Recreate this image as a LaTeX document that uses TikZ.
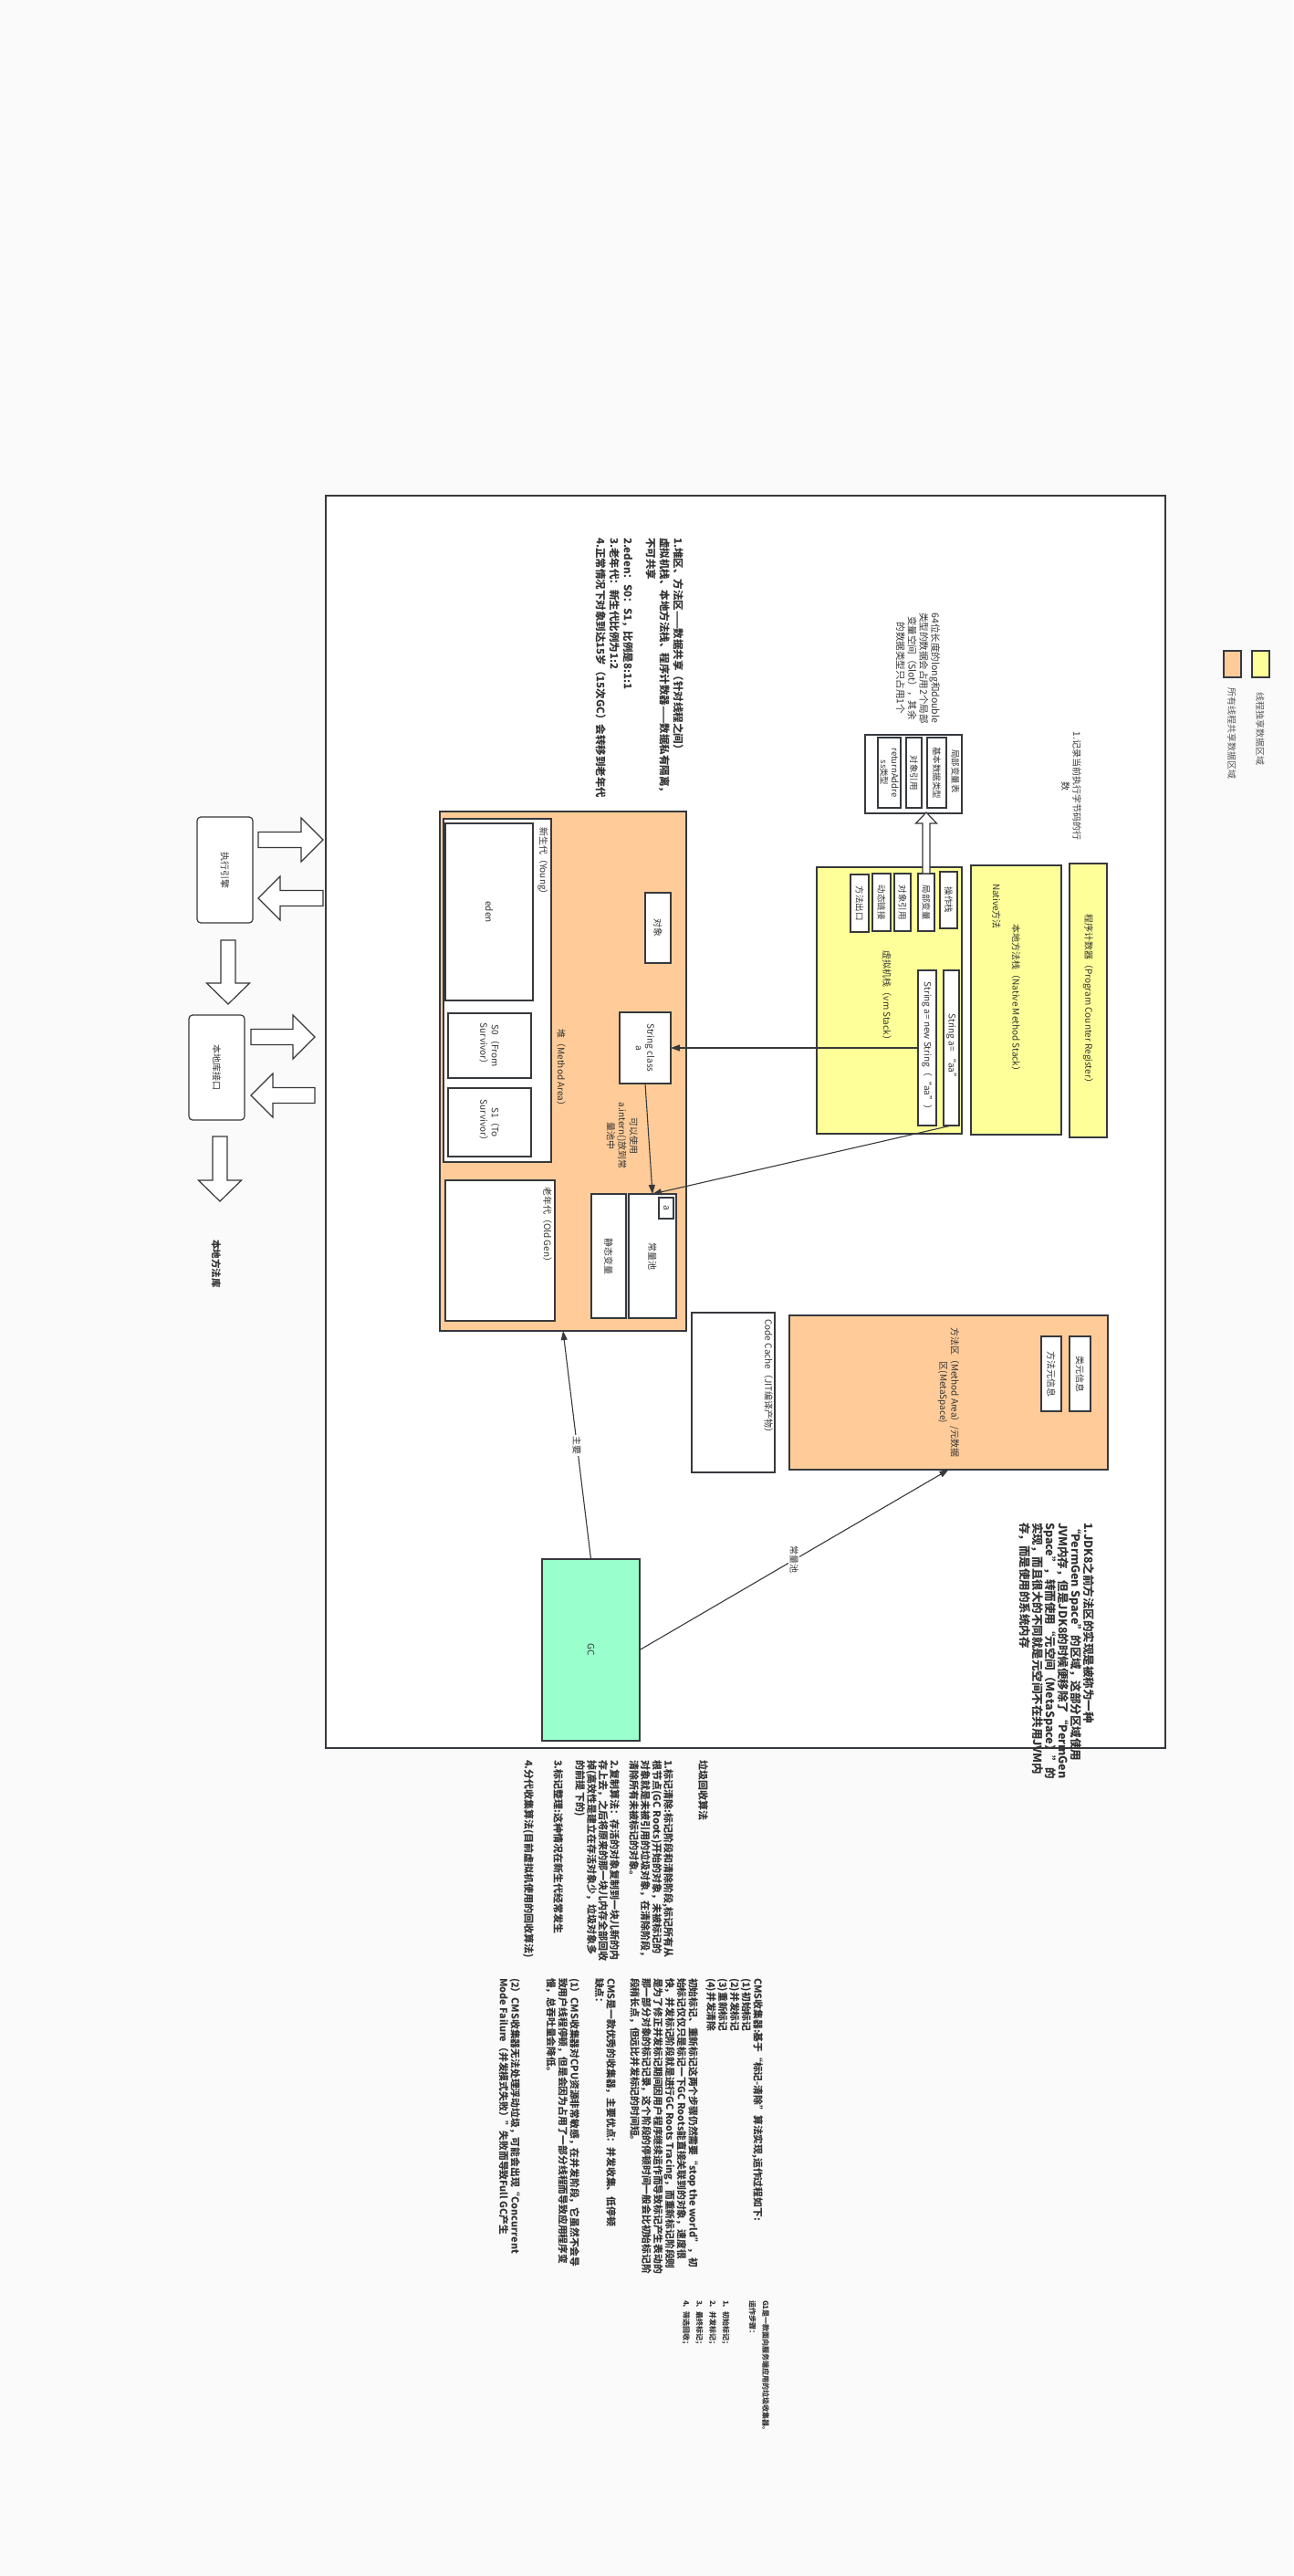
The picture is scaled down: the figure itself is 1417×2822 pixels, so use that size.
\documentclass[tikz,border=0pt]{standalone}
\usepackage{fontspec}
\setmainfont{Noto Sans CJK SC}
\usetikzlibrary{arrows.meta}
\definecolor{bg}{HTML}{FAFAFA}
\definecolor{heapc}{HTML}{FFCC99}
\definecolor{stackc}{HTML}{FFFF99}
\definecolor{gcc}{HTML}{99FFCC}
\definecolor{edge}{HTML}{36393D}
\definecolor{txt}{HTML}{333333}
\definecolor{txtl}{HTML}{555555}
\newcommand\mybox[7]{\node[box,#6,minimum width={#5-#3},minimum height={#4-#2}] (#1) at ({(#2+#4)/2},{(#3+#5)/2}) {#7};}
\newcommand\harr[6]{\draw[barr] (#1,{#3-#4}) -- ({#2-#6},{#3-#4}) -- ({#2-#6},{#3-#5}) -- (#2,#3) -- ({#2-#6},{#3+#5}) -- ({#2-#6},{#3+#4}) -- (#1,{#3+#4}) -- cycle;}
\newcommand\varr[6]{\draw[barr] ({#3-#4},#1) -- ({#3-#4},{#2-#6}) -- ({#3-#5},{#2-#6}) -- (#3,#2) -- ({#3+#5},{#2-#6}) -- ({#3+#4},{#2-#6}) -- ({#3+#4},#1) -- cycle;}
\begin{document}
\begin{tikzpicture}[x=1pt,y=-1pt,
  box/.style={draw=edge,line width=1.2pt,inner sep=0pt,outer sep=0pt,rotate=-90,text=txt,align=center,font=\fontsize{10}{12.5}\selectfont},
  lbl/.style={rotate=-90,inner sep=0pt,outer sep=0pt,text=txt,align=center,font=\fontsize{10}{12.5}\selectfont},
  tb/.style={rotate=-90,anchor=north west,inner sep=0pt,outer sep=0pt,text=txt,align=left},
  conn/.style={draw=edge,line width=1.1pt,-{Triangle[length=10pt,width=7pt]}},
  barr/.style={draw=edge,fill=white,line width=1.2pt,line join=miter},
  small/.style={font=\fontsize{9.5}{12}\selectfont},
]
\useasboundingbox (0,0) rectangle (1417,2822);
\fill[bg] (0,0) rectangle (1417,2822);

% main frame
\mybox{main}{357}{543}{1277}{1915}{fill=white,line width=1.4pt}{}

% legend
\mybox{legO}{1341}{713}{1360}{742}{fill=heapc}{}
\mybox{legY}{1372}{713}{1391}{742}{fill=stackc}{}
\node[lbl,anchor=west,text=txtl] (legOt) at (1350,753) {所有线程共享数据区域};
\node[lbl,anchor=west,text=txtl] (legYt) at (1381,758) {线程独享数据区域};

% thread private areas
\mybox{pc}{1172}{946}{1213}{1246}{fill=stackc}{程序计数器（Program Counter Register）}
\mybox{nms}{1064}{948}{1163}{1243}{fill=stackc}{本地方法栈（Native Method Stack）}
\node[lbl,anchor=west] (nmsn) at (1092,968) {Native方法};
\mybox{vms}{895}{950}{1054}{1242}{fill=stackc}{}
\node[lbl] (vmsl) at (972,1093) {虚拟机栈（vm Stack）};
\mybox{opst}{1030}{955}{1049}{1017}{fill=white,small}{操作栈}
\mybox{lvar}{1006}{957}{1024}{1020}{fill=white,small}{局部变量}
\mybox{oref}{980}{957}{998}{1020}{fill=white,small}{对象引用}
\mybox{dlink}{956}{957}{976}{1020}{fill=white,small}{动态链接}
\mybox{mexit}{932}{958}{952}{1021}{fill=white,small}{方法出口}
\mybox{straa}{1034}{1063}{1051}{1233}{fill=white}{String a= “aa”}
\mybox{newstr}{1006}{1063}{1026}{1233}{fill=white}{String a= new String（“aa”）}

% local variable table
\mybox{lvt}{948}{805}{1054}{891}{fill=white}{}
\node[lbl,small] (lvth) at (1047,845) {局部变量表};
\mybox{lvtA}{1016}{808}{1037}{885}{fill=white,small}{基本数据类型}
\mybox{lvtB}{993}{808}{1010}{885}{fill=white,small}{对象引用}
\mybox{lvtC}{962}{808}{987}{885}{fill=white,small}{returnAddre\\ss类型}
\varr{957}{890}{1015}{4}{11.5}{-12}

% heap
\mybox{heap}{482}{889}{752}{1458}{fill=heapc}{}
\node[lbl] (heapl) at (615,1172) {堆（Method Area）};
\mybox{young}{486}{897}{604}{1273}{fill=white}{}
\node[lbl,anchor=west] (youngl) at (595,906) {新生代（Young）};
\mybox{eden}{488}{902}{584}{1096}{fill=white}{eden}
\mybox{szero}{491}{1110}{582}{1181}{fill=white}{S0（From\\Survivor）}
\mybox{sone}{491}{1192}{582}{1267}{fill=white}{S1（To\\Survivor）}
\mybox{old}{488}{1293}{608}{1447}{fill=white}{}
\node[lbl,anchor=west] (oldl) at (600,1300) {老年代（Old Gen）};
\mybox{obj}{707}{978}{735}{1055}{fill=white}{对象}
\mybox{strclass}{679}{1109}{735}{1187}{fill=white}{String class\\a}
\mybox{cpool}{689}{1308}{741}{1444}{fill=white}{常量池}
\mybox{smalla}{722}{1312}{738}{1335}{fill=white}{a}
\mybox{statv}{648}{1308}{686}{1444}{fill=white}{静态变量}
\node[lbl] (internl) at (682,1244) {可以使用\\a.intern()放到常\\量池中};

% method area & code cache
\mybox{ma}{865}{1441}{1214}{1610}{fill=heapc}{方法区（Method Area）/元数据\\区(MetaSpace)}
\mybox{clsmeta}{1172}{1464}{1195}{1546}{fill=white}{类元信息}
\mybox{mthmeta}{1141}{1464}{1163}{1546}{fill=white}{方法元信息}
\mybox{cc}{758}{1438}{849}{1613}{fill=white}{}
\node[lbl,anchor=north] (ccl) at (847,1510) {Code Cache（JIT编译产物）};

% GC
\mybox{gc}{594}{1708}{701}{1907}{fill=gcc}{GC}

% execution engine side
\mybox{exe}{216}{895}{277}{1011}{fill=white,rounded corners=4pt}{执行引擎}
\mybox{nli}{207}{1112}{268}{1227}{fill=white,rounded corners=4pt}{本地库接口}
\node[lbl,font=\bfseries\fontsize{10.5}{12}\selectfont,anchor=west] (nml) at (237,1358) {本地方法库};
\harr{283}{354}{920}{8.5}{24}{24}
\harr{354}{283}{984}{8.5}{24}{-24}
\varr{1030}{1100}{250}{8}{23.5}{23}
\harr{275}{345}{1136}{8.5}{24}{24}
\harr{345}{275}{1200}{8.5}{24}{-24}
\varr{1245}{1316}{241}{8}{23.5}{23}

% connectors
\draw[conn] (newstr.south) -- (strclass.north);
\draw[conn] (straa.east) -- (cpool.west);
\draw[conn] (strclass.east) -- (cpool.west);
\draw[conn] (gc.west) -- node[lbl,fill=white,inner sep=1.5pt] (lblmain) {主要} (heap.east);
\draw[conn] (gc.north) -- node[lbl,fill=white,inner sep=1.5pt] (lblcp) {常量池} (ma.east);

% text blocks
\node[tb,font=\bfseries\fontsize{11.5}{15}\selectfont] (tA) at (749,589) {1.堆区、方法区——数据共享（针对线程之间）\\虚拟机栈、本地方法栈、程序计数器——数据私有隔离，\\不可共享\\[10pt]2.eden：S0：S1，比例是8:1:1\\3.老年代：新生代比例为1:2\\4.正常情况下对象到达15岁（15次GC）会转移到老年代};
\node[lbl,font=\fontsize{10.5}{12.8}\selectfont] (tB) at (1006,732) {64位长度的long和double\\类型的数据会占用2个局部\\变量空间（Slot），其余\\的数据类型只占用1个};
\node[lbl] (tC) at (1174,861) {1.记录当前执行字节码的行\\数};
\node[tb,font=\bfseries\fontsize{12.5}{14}\selectfont] (tD) at (1199,1668) {1.JDK8之前方法区的实现是被称为一种\\“PermGen Space”的区域，这部分区域使用\\JVM内存，但是JDK8的时候便移除了“PermGen\\Space”，转而使用“元空间（MetaSpace）”的\\实现，而且很大的不同就是元空间不在共用JVM内\\存，而是使用的系统内存};

\tikzset{gb/.style={tb,font=\bfseries\fontsize{11}{12.6}\selectfont}}
\node[gb] (gA) at (776,1928) {垃圾回收算法};
\node[gb] (gB) at (738,1928) {1.标记清除:标记阶段和清除阶段,标记所有从\\根节点(GC Roots)开始的对象，未被标记的\\对象就是未被引用的垃圾对象，在清除阶段，\\清除所有未被标记的对象。};
\node[gb] (gC) at (679,1928) {2.复制算法：存活的对象复制到一块儿新的内\\存上去，之后将原来的那一块儿内存全部回收\\掉(高效性是建立在存活对象少，垃圾对象多\\的前提 下的)};
\node[gb] (gD) at (617,1928) {3.标记整理:这种情况在新生代经常发生};
\node[gb] (gE) at (585,1928) {4.分代收集算法(目前虚拟机使用的回收算法)};

\tikzset{cb/.style={tb,font=\bfseries\fontsize{10.8}{12.8}\selectfont}}
\node[cb] (cA) at (836,2167) {CMS收集器:基于“标记-清除”算法实现,运作过程如下:\\(1)初始标记\\(2)并发标记\\(3)重新标记\\(4)并发清除};
\node[cb] (cB) at (765,2167) {初始标记、重新标记这两个步骤仍然需要“stop the world”，初\\始标记仅仅只是标记一下GC Roots能直接关联到的对象，速度很\\快，并发标记阶段就是进行GC Roots Tracing，而重新标记阶段则\\是为了修正并发标记期间因用户程序继续运作而导致标记产生表动的\\那一部分对象的标记记录，这个阶段的停顿时间一般会比初始标记阶\\段稍长点，但远比并发标记的时间短。};
\node[cb] (cC) at (675,2167) {CMS是一款优秀的收集器，主要优点：并发收集、低停顿\\缺点：};
\node[cb] (cD) at (635,2167) {(1）CMS收集器对CPU资源非常敏感，在并发阶段，它虽然不会导\\致用户线程停顿，但是会因为占用了一部分线程而导致应用程序变\\慢，总吞吐量会降低。};
\node[cb] (cE) at (570,2167) {(2）CMS收集器无法处理浮动垃圾，可能会出现“Concurrent\\Mode Failure（并发模式失败）”失败而导致Full GC产生};

\node[tb,font=\bfseries\fontsize{8}{14.5}\selectfont] (gOne) at (843,2520) {G1是一款面向服务端应用的垃圾收集器。\\运作步骤：\\[14.5pt]1、初始标记；\\2、并发标记；\\3、最终标记；\\4、筛选回收；};
\end{tikzpicture}
\end{document}
